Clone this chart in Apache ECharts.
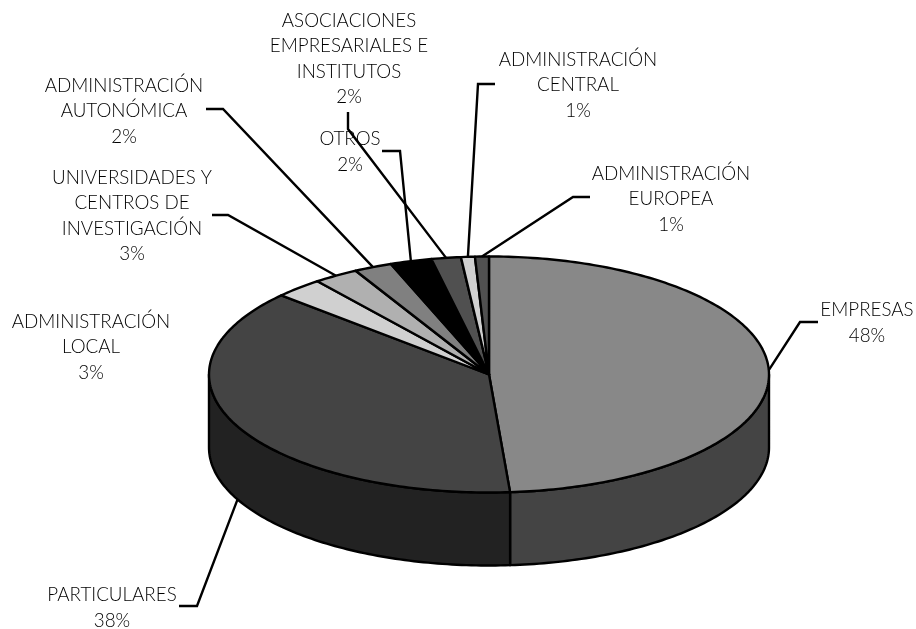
<!DOCTYPE html>
<html><head><meta charset="utf-8">
<style>html,body{margin:0;padding:0;background:#fff}#c{width:916px;height:629px}</style>
<script src="https://cdn.jsdelivr.net/npm/echarts@6/dist/echarts.min.js"></script>
</head><body><div id="c"></div>
<script>
// Data
const categories = ['EMPRESAS','PARTICULARES','ADMINISTRACIÓN\nLOCAL','UNIVERSIDADES Y\nCENTROS DE\nINVESTIGACIÓN','ADMINISTRACIÓN\nAUTONÓMICA','OTROS','ASOCIACIONES\nEMPRESARIALES E\nINSTITUTOS','ADMINISTRACIÓN\nCENTRAL','ADMINISTRACIÓN\nEUROPEA'];
const shares = [48.8,37.9,2.8,2.6,2.2,2.4,1.7,0.8,0.8];
// percentages as printed on the labels
const printedPercent = ['48%','38%','3%','3%','2%','2%','2%','1%','1%'];
const topColors = ['#888888','#444444','#d0d0d0','#b0b0b0','#808080','#000000','#505050','#d0d0d0','#505050'];
const sideColors = ['#444444','#222222','#686868','#585858','#404040','#000000','#282828','#686868','#282828'];

// Layout
const cx=489, cy=374.5, rx=280, ry=118, depth=73;
const total = shares.reduce((a,b)=>a+b,0);
const labelCentres = [[867,323],[112,608],[91,347],[132,216],[124,111],[350,152],[349,59],[578,85],[671,199]];
const elbows = [
  [[800,322],[818,322]],
  [[197,606],[179,606]],
  null,
  [[228,215],[212,215]],
  [[223,109],[206,109]],
  [[400,151],[382,151]],
  [[348,129],[348,112]],
  [[478,84],[495,84]],
  [[573,197],[590,197]]
];
const FONT='"Lato","Open Sans",sans-serif', FS=18.8;

function pt(tDeg,dy){const t=tDeg*Math.PI/180;return [cx+rx*Math.sin(t),cy-ry*Math.cos(t)+(dy||0)];}
function arc(a,b,dy){const n=Math.max(2,Math.ceil(Math.abs(b-a)));const out=[];for(let i=0;i<=n;i++)out.push(pt(a+(b-a)*i/n,dy));return out;}
const ranges=[];{let s=0;shares.forEach(v=>{const a=s/total*360;s+=v;ranges.push([a,s/total*360]);});}

const src = categories.map((c,i)=>[i,shares[i]]);
function wall(p,api){
  const i=api.value(0),[a,b]=ranges[i];
  const s=Math.max(a,90),e=Math.min(b,270);
  if(e<=s) return {type:'group',children:[]};
  return {type:'polygon',shape:{points:arc(s,e,0).concat(arc(e,s,depth))},
    style:{fill:sideColors[i],stroke:'#000',lineWidth:2.4,lineJoin:'round'}};
}
function top_(p,api){
  const i=api.value(0),[a,b]=ranges[i];
  return {type:'polygon',shape:{points:[[cx,cy]].concat(arc(a,b,0))},
    style:{fill:topColors[i],stroke:'#000',lineWidth:2.4,lineJoin:'round'}};
}
function notes(p,api){
  const i=api.value(0),[a,b]=ranges[i],mid=(a+b)/2;
  const kids=[];
  if(elbows[i]){
    const onFront=mid>90&&mid<270;
    const start=pt(mid,(onFront&&mid>180)?depth:0);
    kids.push({type:'polyline',shape:{points:[start].concat(elbows[i])},style:{fill:null,stroke:'#000',lineWidth:2.4,lineJoin:'miter'}});
  }
  kids.push({type:'text',style:{x:labelCentres[i][0],y:labelCentres[i][1],text:categories[i]+'\n'+printedPercent[i],
    align:'center',verticalAlign:'middle',fontFamily:FONT,fontSize:FS,fontWeight:300,lineHeight:25.5,fill:'#000'}});
  return {type:'group',children:kids};
}
const base={type:'custom',coordinateSystem:'none',data:src,animation:false,silent:true,clip:false};
const chart=echarts.init(document.getElementById('c'),null,{renderer:'canvas'});
chart.setOption({animation:false,backgroundColor:'#fff',series:[
  Object.assign({},base,{renderItem:wall,z:1}),
  Object.assign({},base,{renderItem:top_,z:2}),
  Object.assign({},base,{renderItem:notes,z:3})
]});
</script></body></html>
